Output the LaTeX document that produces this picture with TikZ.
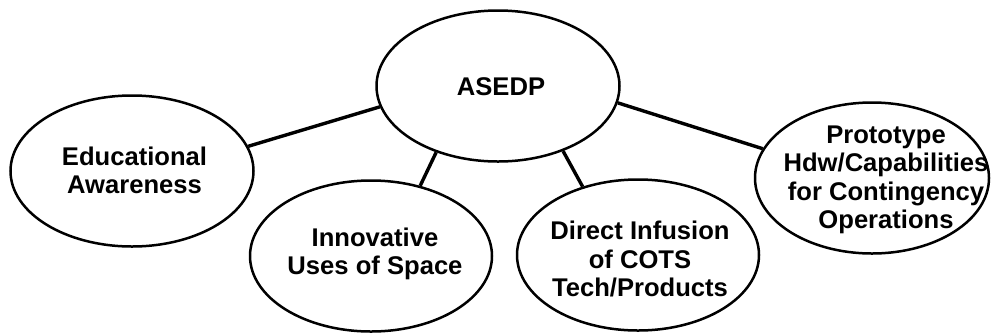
\documentclass[tikz,border=0pt]{standalone}
\usepackage{fontspec}
\setmainfont{Liberation Sans}
\usetikzlibrary{shapes.geometric}
\tikzset{
  ell/.style={ellipse, draw=black, line width=2.5pt, inner sep=0pt, fill=white},
  lbl/.style={align=center, font=\fontsize{25.6}{28.4}\selectfont\bfseries, inner sep=0pt},
  link/.style={draw=black, line width=3.4pt}
}
\begin{document}
\begin{tikzpicture}[x=1pt, y=-1pt]
\useasboundingbox (0,0) rectangle (993,333);
\node[ell, minimum width=243pt, minimum height=151pt] (asedp) at (498,86) {};
\node[ell, minimum width=243pt, minimum height=151pt] (edu) at (132,171) {};
\node[ell, minimum width=242pt, minimum height=151pt] (inn) at (371,256) {};
\node[ell, minimum width=242pt, minimum height=151pt] (dir) at (638,255) {};
\node[ell, minimum width=234pt, minimum height=151pt] (pro) at (872,178) {};
\node[lbl] (tasedp) at (501,86.5) {ASEDP};
\node[lbl] (tedu) at (134.5,170.5) {Educational\\Awareness};
\node[lbl] (tinn) at (375,254) {Innovative\\Uses of Space};
\node[lbl] (tdir) at (640,259) {Direct Infusion\\of COTS\\Tech/Products};
\node[lbl] (tpro) at (886,180) {Prototype\\Hdw/Capabilities\\for Contingency\\Operations};
\draw[link] (edu.12) -- (asedp.190.6);
\draw[link] (inn.55.4) -- (asedp.227.7);
\draw[link] (dir.129.6) -- (asedp.315);
\draw[link] (pro.165) -- (asedp.352.6);
\end{tikzpicture}
\end{document}
